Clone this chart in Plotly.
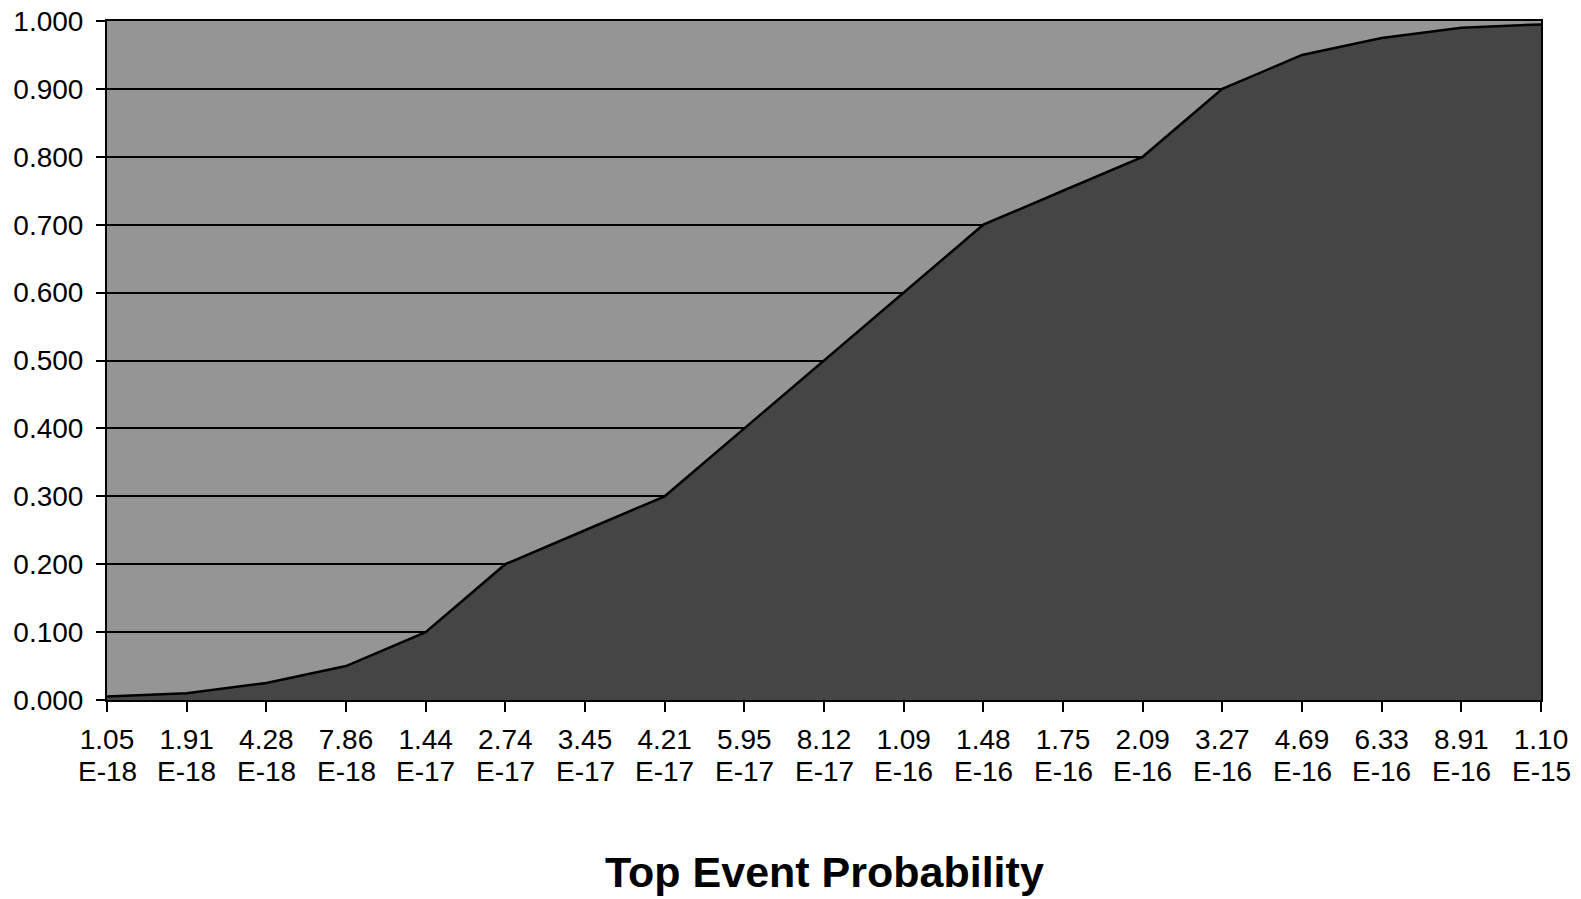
import plotly.graph_objects as go

mantissas = ["1.05", "1.91", "4.28", "7.86", "1.44", "2.74", "3.45", "4.21", "5.95", "8.12",
             "1.09", "1.48", "1.75", "2.09", "3.27", "4.69", "6.33", "8.91", "1.10"]
exponents = ["E-18", "E-18", "E-18", "E-18", "E-17", "E-17", "E-17", "E-17", "E-17", "E-17",
             "E-16", "E-16", "E-16", "E-16", "E-16", "E-16", "E-16", "E-16", "E-15"]
cumulative = [0.005, 0.010, 0.025, 0.050, 0.100, 0.200, 0.250, 0.300, 0.400, 0.500,
              0.600, 0.700, 0.750, 0.800, 0.900, 0.950, 0.975, 0.990, 0.995]
y_ticks = [0.0, 0.1, 0.2, 0.3, 0.4, 0.5, 0.6, 0.7, 0.8, 0.9, 1.0]
x_title = "Top Event Probability"

idx = list(range(len(mantissas)))
font = "Liberation Sans, Arial, sans-serif"
FS = 28

fig = go.Figure()
fig.add_trace(go.Scatter(
    x=idx, y=cumulative, mode="lines", fill="tozeroy",
    fillcolor="#454545", line=dict(color="black", width=2.5),
    hoverinfo="skip", showlegend=False))

annotations = [dict(
    text=e, x=i, xref="x", y=0, yref="paper", yshift=-71,
    xanchor="center", yanchor="middle", showarrow=False,
    font=dict(family=font, size=FS, color="black"))
    for i, e in zip(idx, exponents)]
annotations.append(dict(
    text="<b>" + x_title + "</b>", xref="paper", yref="paper",
    x=0.5, y=0, yshift=-172, xanchor="center", yanchor="middle", showarrow=False,
    font=dict(family=font, size=43, color="black")))

fig.update_layout(
    width=1581, height=899,
    margin=dict(l=107, r=40, t=21, b=199, autoexpand=False),
    paper_bgcolor="white", plot_bgcolor="#959595",
    font=dict(family=font, size=FS, color="black"),
    showlegend=False,
    xaxis=dict(
        range=[0, len(idx) - 1], tickmode="array", tickvals=idx, ticktext=mantissas,
        ticks="outside", ticklen=10, tickwidth=2, tickcolor="black",
        showline=True, linecolor="black", linewidth=2, mirror=True,
        showgrid=False, zeroline=False, automargin=False,
        tickfont=dict(family=font, size=FS, color="black"), ticklabelstandoff=3),
    yaxis=dict(
        range=[0, 1.0], tickmode="array", tickvals=y_ticks, tickformat=".3f",
        ticks="outside", ticklen=9, tickwidth=2, tickcolor="black",
        showline=True, linecolor="black", linewidth=2, mirror=True,
        showgrid=True, gridcolor="black", gridwidth=1.5, zeroline=False,
        automargin=False, tickfont=dict(family=font, size=FS, color="black"),
        ticklabelstandoff=7),
    annotations=annotations,
)
fig.write_html(
    "out.html",
    config={"displayModeBar": False},
    post_script="document.body.style.margin='0';document.body.style.overflow='hidden';",
)
